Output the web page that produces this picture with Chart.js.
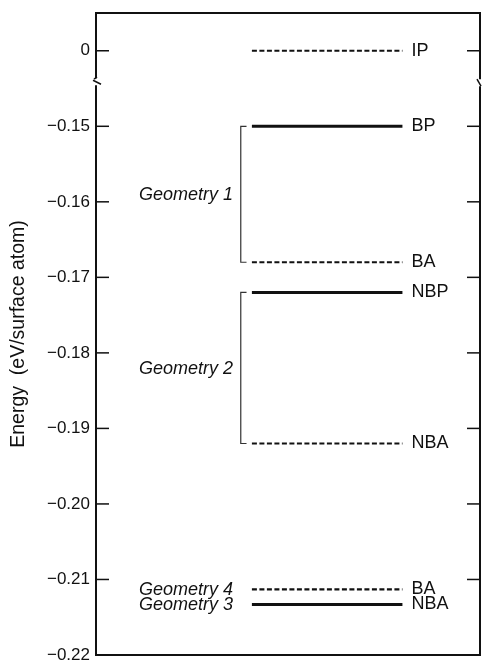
<!DOCTYPE html>
<html>
<head>
<meta charset="utf-8">
<script src="https://cdn.jsdelivr.net/npm/chart.js@4.4.0/dist/chart.umd.min.js"></script>
<style>
  html, body { margin: 0; background: #fff; }
  #wrap { width: 483px; height: 662px; }
</style>
</head>
<body>
<div id="wrap"><canvas id="energyChart"></canvas></div>
<script>
// data (eV / surface atom)
const levelNames = ['IP', 'BP', 'BA', 'NBP', 'NBA', 'BA', 'NBA'];
const levelEnergies = [0, -0.150, -0.168, -0.172, -0.192, -0.2113, -0.2133];
const geometryNames = ['Geometry 1', 'Geometry 2', 'Geometry 4', 'Geometry 3'];
const geometryLevels = [[1, 2], [3, 4], [5], [6]];
const tickValues = [0, -0.15, -0.16, -0.17, -0.18, -0.19, -0.20, -0.21, -0.22];
const tickLabels = ['0', '\u22120.15', '\u22120.16', '\u22120.17', '\u22120.18', '\u22120.19', '\u22120.20', '\u22120.21', '\u22120.22'];

// the axis is broken: 0 is drawn just above the -0.15 .. -0.22 range
const zeroAxisPos = -0.140;
const breakAxisPos = -0.1443;
const toAxis = v => (v === 0 ? zeroAxisPos : v);

// layout in x units (0..10 across the plot)
const levelStart = 4.06;
const levelEnd = 7.98;
const bracketX = 3.77;
const bracketTip = 3.92;
const geomLabelX = 3.57;
const dashedLevels = [0, 2, 4, 5];

const FONT = '"Liberation Sans", Arial, Helvetica, sans-serif';

const datasets = levelEnergies.map((e, i) => {
    const dashed = dashedLevels.includes(i);
    return {
        label: levelNames[i],
        data: [{x: levelStart, y: toAxis(e)}, {x: levelEnd, y: toAxis(e)}],
        borderColor: '#111',
        borderWidth: dashed ? 2.2 : 3,
        borderDash: dashed ? [5, 2.5] : [],
        pointRadius: 0,
        fill: false
    };
});

geometryLevels.forEach(lv => {
    if (lv.length < 2) return;
    const top = levelEnergies[lv[0]], bottom = levelEnergies[lv[1]];
    datasets.push({
        label: 'bracket',
        data: [
            {x: bracketTip, y: top}, {x: bracketX, y: top},
            {x: bracketX, y: bottom}, {x: bracketTip, y: bottom}
        ],
        borderColor: '#333',
        borderWidth: 1.2,
        pointRadius: 0,
        fill: false
    });
});

const framePlugin = {
    id: 'frame',
    afterDraw(chart) {
        const {ctx, chartArea: a, scales: {x, y}} = chart;
        const line = (x1, y1, x2, y2) => {
            ctx.beginPath(); ctx.moveTo(x1, y1); ctx.lineTo(x2, y2); ctx.stroke();
        };
        ctx.save();
        ctx.strokeStyle = '#111';
        ctx.lineWidth = 2;
        line(a.left - 1, a.top, a.right + 1, a.top);
        line(a.left - 1, a.bottom, a.right + 1, a.bottom);
        const yb = y.getPixelForValue(breakAxisPos);
        line(a.left, a.top, a.left, yb - 5);
        line(a.left, yb + 2, a.left, a.bottom);
        line(a.right, a.top, a.right, yb - 4);
        line(a.right, yb + 3, a.right, a.bottom);
        ctx.lineWidth = 1.5;
        line(a.left - 2, yb - 4, a.left + 1, yb - 6);
        line(a.left - 3, yb - 3, a.left + 5, yb + 1);
        line(a.right - 3, yb - 4, a.right + 1, yb + 3);

        // inward ticks on both sides
        ctx.lineWidth = 1.5;
        tickValues.forEach(v => {
            const py = y.getPixelForValue(toAxis(v));
            line(a.left, py, a.left + 13, py);
            line(a.right - 13, py, a.right, py);
        });

        ctx.fillStyle = '#111';
        ctx.textBaseline = 'middle';
        ctx.font = '18px ' + FONT;
        ctx.textAlign = 'left';
        levelNames.forEach((n, i) => {
            ctx.fillText(n, x.getPixelForValue(levelEnd) + 9, y.getPixelForValue(toAxis(levelEnergies[i])));
        });

        ctx.font = 'italic 18px ' + FONT;
        ctx.textAlign = 'right';
        geometryNames.forEach((n, i) => {
            const lv = geometryLevels[i];
            const e = lv.reduce((s, k) => s + levelEnergies[k], 0) / lv.length;
            ctx.fillText(n, x.getPixelForValue(geomLabelX), y.getPixelForValue(e) + 1);
        });
        ctx.restore();
    }
};

new Chart(document.getElementById('energyChart'), {
    type: 'line',
    data: {datasets: datasets},
    options: {
        responsive: true,
        maintainAspectRatio: false,
        animation: false,
        layout: {padding: {top: 13, right: 3, bottom: 7, left: 0}},
        plugins: {legend: {display: false}, tooltip: {enabled: false}},
        scales: {
            x: {type: 'linear', min: 0, max: 10, display: false},
            y: {
                type: 'linear',
                min: -0.22,
                max: -0.135,
                afterBuildTicks: scale => {
                    scale.ticks = tickValues.map(v => ({value: toAxis(v)}));
                },
                afterFit: scale => { scale.width = 96; },
                grid: {display: false, drawTicks: false},
                border: {display: false},
                ticks: {
                    padding: 6,
                    color: '#111',
                    font: {family: FONT, size: 17, lineHeight: 0.05},
                    callback: (value, index) => tickLabels[index]
                },
                title: {
                    display: true,
                    text: 'Energy  (eV/surface atom)',
                    color: '#111',
                    font: {family: FONT, size: 19.5},
                    padding: {top: 7, bottom: 0}
                }
            }
        }
    },
    plugins: [framePlugin]
});
</script>
</body>
</html>
